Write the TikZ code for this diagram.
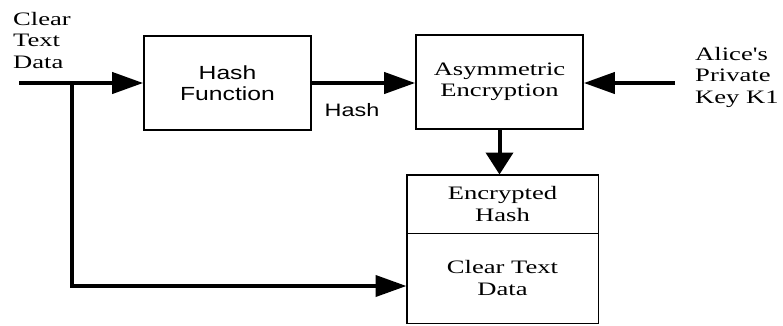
\documentclass[tikz,border=0pt]{standalone}
\usepackage{fontspec}
\usetikzlibrary{arrows.meta}
% Widened faces for all labels
\newfontfamily\serifwide[FakeStretch=1.4]{Liberation Serif}
\newfontfamily\sanswide[FakeStretch=1.3]{Liberation Sans}
\begin{document}
\begin{tikzpicture}[x=1pt,y=-1pt,
  serif text/.style={font=\serifwide\fontsize{19}{21.5}\selectfont},
  sans text/.style={font=\sanswide\fontsize{18}{20}\selectfont},
  procbox/.style={draw, line width=1.6pt, minimum width=167pt,
    minimum height=94pt, inner sep=0pt, align=center},
  partbox/.style={draw, line width=1pt, minimum width=191pt,
    inner sep=0pt, align=center, serif text},
  flow/.style={line width=4pt, line join=miter,
    -{Triangle[length=31pt,width=21pt]}},
  flowdown/.style={line width=4pt, -{Triangle[length=22pt,width=27pt]}}]

  \useasboundingbox (0,0) rectangle (783,325);

  % processing stages
  \node[procbox, sans text, font=\sanswide\fontsize{19}{21}\selectfont]
    (hf) at (227.5,83) {Hash\\Function};
  \node[procbox, serif text] (ae) at (499.5,82) {Asymmetric\\Encryption};

  % signed message: encrypted hash on top of the clear text
  \node[partbox, minimum height=58pt] (eh) at (502.5,204) {Encrypted\\Hash};
  \node[partbox, minimum height=90pt] (ct) at (502.5,278) {Clear Text\\Data};
  \draw[line width=1.6pt] (eh.north west) rectangle (ct.south east);

  % free ends and the branch point
  \coordinate (in) at (19,83);
  \coordinate (split) at (72,83);
  \coordinate (key) at (675,83);

  % labels
  \node[serif text, align=left, anchor=north west, inner sep=0pt]
    (lin) at (13,12) {Clear\\Text\\Data};
  \node[serif text, align=left, anchor=north west, inner sep=0pt]
    (lkey) at (695,47) {Alice's\\Private\\Key K1};
  \node[sans text, inner sep=0pt] (lhash) at (352,110) {Hash};

  % connectors
  \draw[flow] (in) -- (hf.west |- in);
  \draw[flow] (hf.east |- in) -- (ae.west |- in);
  \draw[flow] (key) -- (ae.east |- key);
  \draw[flowdown] (ae.south) -- (ae.south |- eh.north);
  \draw[flow] (split) |- ([yshift=-8pt]ct.west);
\end{tikzpicture}
\end{document}
